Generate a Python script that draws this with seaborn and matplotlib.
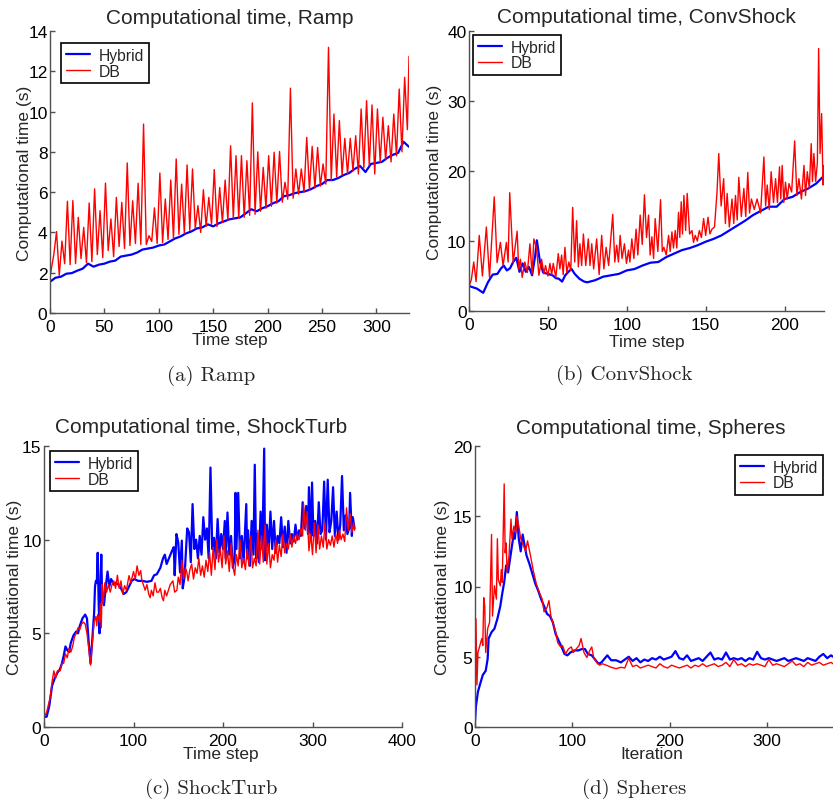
import numpy as np
import pandas as pd
import matplotlib
matplotlib.use("Agg")
import matplotlib.pyplot as plt
import seaborn as sns

# ---------------- data ----------------
# (a) Ramp
ramp_hyb_steps = list(range(0, 331, 5))
ramp_hybrid = [1.55, 1.75, 1.8, 1.95, 1.98, 2.1, 2.2, 2.45, 2.3, 2.4,
               2.45, 2.55, 2.6, 2.8, 2.85, 2.9, 3.0, 3.15, 3.2, 3.25,
               3.35, 3.4, 3.55, 3.7, 3.8, 3.95, 4.05, 4.2, 4.25, 4.4,
               4.3, 4.45, 4.55, 4.65, 4.7, 4.75, 4.95, 5.15, 5.05, 5.2,
               5.3, 5.45, 5.55, 5.8, 5.85, 5.95, 6.0, 6.05, 6.15, 6.3,
               6.4, 6.6, 6.6, 6.7, 6.85, 6.95, 7.15, 7.3, 7.0, 7.4,
               7.45, 7.5, 7.7, 7.85, 7.95, 8.5, 8.25]
ramp_db_peak_steps = list(np.arange(6, 330, 5))
ramp_db_peaks = [4.04, 3.57, 5.55, 5.58, 4.75, 4.25, 5.46, 6.16, 5.08, 6.45,
                 4.67, 5.74, 5.49, 7.45, 5.57, 6.44, 9.38, 3.84, 5.22, 6.95,
                 5.66, 6.6, 7.65, 6.4, 7.35, 7.15, 5.33, 6.12, 5.74, 7.12,
                 6.23, 6.6, 8.3, 7.81, 7.81, 7.56, 10.43, 8.0, 7.23, 7.81,
                 7.98, 8.02, 6.49, 11.16, 7.15, 7.15, 8.72, 8.27, 8.22, 7.4,
                 13.19, 9.88, 9.55, 8.67, 8.67, 8.8, 10.13, 10.54, 10.33, 10.13,
                 9.72, 9.3, 9.88, 11.12, 11.7]
ramp_db_trough_steps = list(np.arange(3.5, 328, 5))
ramp_db_troughs = [2.9, 1.86, 2.45, 2.4, 2.45, 2.7, 2.5, 2.55, 2.9, 2.75,
                   3.1, 2.8, 3.3, 3.2, 3.35, 3.45, 3.4, 3.4, 3.55, 3.45,
                   3.5, 3.65, 3.7, 3.9, 3.95, 4.1, 4.2, 4.0, 4.3, 4.4,
                   4.3, 4.5, 4.6, 4.7, 4.7, 4.75, 4.85, 4.9, 5.05, 5.2,
                   5.3, 5.45, 5.5, 5.65, 5.7, 5.9, 6.0, 6.1, 6.2, 6.3,
                   6.4, 6.6, 6.75, 6.85, 6.9, 7.05, 6.9, 7.2, 7.3, 6.9,
                   7.5, 7.6, 7.5, 7.8, 8.0]
ramp_db_edge_steps = [0, 328.5, 330]
ramp_db_edges = [1.8, 9.1, 12.74]

# (b) ConvShock
conv_hyb_steps = [0, 5, 9, 12, 15, 18, 20, 22, 24, 26, 28, 30, 32, 34, 36, 38, 40, 42, 43, 45,
                  47, 50, 53, 55, 57, 59, 61, 63, 65, 67, 70, 73, 75, 80, 85, 90, 95, 100, 105, 110,
                  115, 120, 125, 130, 135, 140, 145, 150, 155, 160, 165, 170, 175, 180, 185, 190, 195, 200, 205, 210,
                  215, 220, 224, 225]
conv_hybrid = [3.57, 3.2, 2.6, 4.1, 5.2, 5.3, 6.0, 6.5, 5.8, 6.1, 7.0, 7.6, 5.6, 6.8, 5.6, 6.3, 5.1, 8.0, 10.1, 7.0,
               5.5, 5.3, 5.1, 4.7, 4.6, 4.2, 5.1, 5.6, 6.0, 5.3, 4.6, 4.2, 4.1, 4.4, 4.9, 5.1, 5.3, 5.8, 6.0, 6.5,
               6.9, 7.0, 7.7, 8.2, 8.7, 9.0, 9.4, 9.9, 10.3, 10.8, 11.5, 12.2, 12.9, 13.7, 14.3, 14.9, 14.9, 16.0, 16.3, 17.0,
               17.5, 18.2, 19.1, 18.9]
conv_db_steps = [0, 1.5, 3, 4.5, 6.5, 8.5, 11, 13, 16, 17.8,
                 19.9, 21.6, 23.7, 24.8, 25.8, 28, 30.5, 31.5, 32.6, 33.7,
                 35.4, 37, 38.6, 40, 41.1, 42.8, 44.3, 46, 47.5, 48.5,
                 50, 51.3, 52.4, 53.4, 55, 56.6, 57.6, 58.7, 59.7, 60.8,
                 62, 63.3, 64.5, 65.7, 67, 68.2, 69.3, 70.3, 71.4, 72.5,
                 74, 75.6, 76.7, 77.8, 79, 80.9, 82.5, 84.1, 85.5, 86.9,
                 88.5, 91.1, 92.4, 93.6, 94.7, 95.8, 97, 98.5, 99.8, 101.1,
                 102, 103.2, 104.5, 105.9, 107, 108.5, 109.8, 111.2, 112.5, 113.8,
                 114.8, 115.9, 117, 118, 119.7, 121.4, 122.5, 123.5, 125, 126.5,
                 127.5, 128.6, 129.6, 130.7, 131.7, 132.8, 133.6, 134.5, 135.3, 136.2,
                 137.3, 138.3, 139.8, 141.3, 142.3, 143.4, 144.7, 146, 147.3, 148.7,
                 150, 151.5, 152.7, 154, 155.6, 157.2, 158.3, 159.8, 161.4, 162.5,
                 163.6, 165, 166.7, 167.8, 168.9, 170, 171, 172.6, 174.2, 175.4,
                 176.7, 177.8, 179, 180.8, 182.6, 184.8, 186.9, 188, 189, 190.3,
                 191.5, 193, 194.3, 195.5, 196.8, 197.6, 198.5, 199.5, 200.6, 201.7,
                 202.8, 204.5, 206.4, 207.8, 209.1, 210.7, 212.3, 213.3, 214.4, 215.7,
                 216.9, 217.7, 218.6, 219.7, 220.8, 221.6, 222.5, 223.5, 224.4, 225]
conv_db = [3.5, 4.5, 7.0, 4.2, 10.8, 5.0, 12.0, 4.8, 16.3, 6.9,
           9.8, 6.5, 9.8, 7.0, 16.9, 6.9, 11.4, 6.0, 7.4, 4.8,
           7.0, 5.5, 9.6, 5.3, 10.3, 9.0, 5.1, 7.4, 5.3, 6.5,
           5.0, 6.8, 5.2, 6.8, 4.8, 8.2, 6.0, 8.0, 5.2, 9.1,
           5.5, 7.0, 5.8, 14.8, 7.0, 12.9, 6.3, 9.6, 6.5, 11.0,
           6.5, 10.3, 6.5, 9.6, 6.0, 10.3, 5.2, 10.8, 6.0, 9.1,
           6.5, 13.8, 7.0, 9.4, 7.0, 10.8, 7.5, 9.6, 6.8, 8.7,
           7.0, 10.3, 7.5, 11.7, 8.0, 13.7, 9.5, 16.6, 10.5, 13.7,
           8.0, 10.6, 7.5, 13.2, 8.5, 15.9, 8.5, 9.1, 8.0, 10.8,
           8.5, 11.3, 9.0, 11.5, 9.0, 14.1, 10.5, 15.6, 11.0, 16.5,
           11.5, 16.8, 11.0, 11.5, 9.8, 10.8, 10.0, 11.5, 10.5, 13.2,
           10.8, 13.4, 11.0, 11.7, 12.0, 17.0, 22.5, 15.0, 18.9, 12.5,
           16.8, 12.0, 16.0, 12.5, 16.5, 13.0, 19.1, 13.5, 17.5, 13.5,
           19.8, 14.0, 16.0, 14.5, 16.0, 14.0, 22.0, 15.0, 18.0, 14.5,
           19.9, 15.5, 18.9, 15.5, 20.6, 16.0, 20.8, 15.5, 18.4, 16.0,
           18.2, 17.0, 24.3, 16.5, 18.9, 16.0, 20.8, 16.5, 19.9, 17.5,
           23.9, 18.5, 22.5, 18.5, 21.2, 37.5, 22.5, 28.2, 18.0, 20.8]

# (c) ShockTurb
st_hyb_steps = [0, 3, 6, 9, 12, 15, 18, 20, 22, 24, 26, 28, 30, 33, 36, 38, 40, 43, 46, 48,
                50, 52, 54, 56, 57, 58, 59, 60, 61, 62, 63, 64, 65, 67, 69, 71, 73, 75, 78, 80,
                83, 86, 89, 92, 95, 98, 101, 105, 110, 115, 120, 123, 126, 130, 133, 135, 137, 140, 143, 145,
                146, 148, 150, 152, 154, 155, 157, 160, 162, 164, 166, 168, 170, 172, 174, 176, 178, 180, 182, 184,
                186, 188, 190, 192, 194, 196, 198, 200, 202, 203, 205, 207, 209, 211, 213, 214, 215, 217, 219, 221,
                223, 226, 227, 228, 230, 232, 234, 235.5, 237, 238, 240, 242, 244, 246, 247, 249, 251, 253, 255, 257,
                259, 261, 263, 265, 267, 269, 271, 273, 275, 277, 279, 281, 283, 285, 287, 289, 291, 293, 295, 296,
                298, 299.5, 301, 303, 305, 307, 309, 311, 313, 315, 317, 319, 321, 323, 325, 327, 329, 331, 333, 335,
                337, 339, 341, 342, 344, 345, 347]
st_hybrid = [0.53, 0.55, 1.15, 2.2, 2.6, 2.9, 3.1, 3.4, 3.8, 4.3, 4.1, 4.0, 4.5, 4.9, 5.1, 5.0, 5.4, 5.8, 6.0, 5.8,
             4.5, 3.4, 4.7, 6.1, 7.5, 7.8, 7.7, 9.3, 6.8, 5.0, 7.5, 9.2, 6.8, 6.5, 7.5, 8.3, 7.5, 7.9, 7.6, 7.7,
             7.6, 7.4, 7.1, 7.2, 7.5, 7.8, 7.9, 7.8, 7.8, 7.75, 7.8, 8.1, 8.15, 8.5, 9.0, 9.2, 8.7, 9.05, 9.4, 9.6,
             8.1, 10.3, 9.85, 8.25, 9.95, 7.4, 8.0, 10.6, 10.4, 8.8, 11.9, 9.5, 10.0, 9.0, 10.2, 9.2, 11.2, 10.0, 10.6, 9.0,
             13.85, 9.5, 10.1, 9.0, 11.1, 9.3, 10.3, 9.5, 11.0, 9.0, 11.45, 9.2, 10.2, 8.5, 9.0, 12.5, 9.5, 12.5, 9.0, 10.2,
             8.8, 11.9, 9.0, 10.5, 8.6, 11.0, 9.2, 14.0, 9.0, 10.3, 8.8, 11.5, 9.5, 14.86, 8.9, 10.8, 9.4, 11.5, 9.5, 11.0,
             9.3, 10.2, 9.8, 11.2, 9.6, 10.7, 9.3, 11.0, 9.8, 10.3, 9.9, 10.8, 10.0, 10.5, 10.2, 12.0, 10.6, 11.8, 10.3, 12.8,
             10.0, 13.05, 10.2, 11.0, 9.8, 12.0, 10.3, 10.5, 13.1, 10.0, 13.2, 10.4, 11.0, 12.8, 10.2, 11.5, 10.0, 10.8, 13.4, 10.5,
             11.3, 10.3, 10.6, 12.5, 10.2, 11.2, 10.6]
st_db_steps = [0, 3, 5, 7, 9, 11, 13, 15, 18, 20, 22, 24, 26, 28, 30, 32, 34, 36, 38, 40,
               42, 44, 46, 48, 50, 52, 54, 56, 58, 59, 60, 62, 63, 64, 65, 66, 68, 70, 72, 74,
               76, 78, 80, 82, 84, 86, 88, 90, 92, 95, 97, 100, 102, 104, 106, 108, 109.4, 111, 113, 115,
               117, 118.6, 120, 122, 124, 126, 128, 130, 132, 133.5, 135, 137, 139, 141, 144, 146, 148.5, 150, 152, 154,
               156, 158, 159.6, 161, 163, 165, 167, 169, 171, 173, 175, 177, 179, 181, 183, 185, 187, 189, 191, 193,
               195, 197, 199, 201, 203, 205, 207, 209, 211, 213, 215, 217, 219, 221, 223, 225, 227, 229, 231, 233,
               235, 237, 239, 241, 243, 245, 247, 249, 251, 253, 255, 257, 259, 261, 263, 265, 267, 269, 271, 273,
               275, 277, 279, 281, 283, 285, 287, 289, 290, 292, 294, 296, 298, 300, 302, 304, 306, 308, 310, 312,
               314, 316, 318, 320, 322, 324, 326, 328, 330, 332, 334, 336, 338, 340, 342, 344, 346, 347]
st_db = [0.5, 0.8, 1.2, 1.6, 2.4, 3.0, 2.6, 3.0, 3.0, 3.4, 3.4, 3.9, 3.7, 4.2, 4.0, 4.3, 4.8, 5.0, 5.3, 5.2,
         5.5, 5.6, 5.5, 5.0, 4.2, 3.3, 4.5, 5.6, 5.9, 5.4, 6.0, 5.6, 6.6, 5.3, 7.6, 6.6, 7.7, 7.2, 7.6, 7.2,
         7.6, 7.8, 7.4, 8.1, 7.4, 7.8, 7.1, 7.55, 7.3, 8.08, 7.7, 8.3, 7.9, 8.6, 8.1, 8.35, 7.8, 7.6, 7.3, 7.6,
         7.1, 6.9, 7.3, 7.0, 7.7, 7.2, 7.2, 7.4, 6.9, 6.74, 7.3, 7.0, 7.3, 7.6, 7.8, 7.2, 7.3, 8.0, 7.6, 8.9,
         7.9, 8.5, 8.26, 7.8, 8.4, 8.7, 7.9, 8.5, 8.2, 9.0, 8.1, 8.6, 8.0, 8.9, 8.3, 9.3, 8.1, 9.6, 8.4, 10.0,
         8.8, 9.5, 8.5, 10.2, 8.7, 9.4, 8.3, 9.8, 8.6, 8.1, 9.2, 8.6, 10.0, 8.5, 9.0, 8.4, 9.5, 8.6, 10.2, 8.5,
         9.0, 8.6, 10.5, 8.7, 10.2, 8.8, 10.8, 8.7, 9.8, 8.5, 9.2, 8.9, 10.0, 8.8, 9.7, 9.1, 10.3, 9.3, 9.8, 9.5,
         10.3, 9.6, 10.2, 9.8, 10.3, 10.0, 10.6, 10.2, 11.9, 10.5, 11.5, 9.4, 10.3, 9.2, 10.9, 9.3, 10.8, 9.5, 10.2, 9.6,
         10.9, 9.5, 10.0, 9.7, 10.2, 9.6, 10.3, 9.8, 10.5, 10.0, 10.3, 9.9, 11.7, 10.5, 11.4, 10.4, 10.9, 10.5]

# (d) Spheres
sph_hyb_steps = [0, 1, 3, 5, 8, 11, 13, 14, 17, 20, 23, 26, 28, 30, 32, 34, 36, 38, 40, 41,
                 43, 45, 47, 49, 51, 53, 56, 59, 62, 65, 68, 71, 74, 77, 80, 83, 86, 89, 92, 95,
                 98, 102, 106, 110, 113, 116, 120, 124, 127, 130, 133, 136, 140, 145, 150]
sph_hybrid = [0.35, 1.5, 2.5, 3.0, 3.7, 4.0, 4.85, 6.3, 6.75, 7.0, 7.7, 8.6, 9.5, 10.3, 11.5, 11.0, 11.95, 12.9, 13.8, 13.4,
              15.3, 13.4, 12.5, 13.7, 12.9, 12.2, 11.6, 10.9, 10.2, 9.7, 9.1, 8.6, 8.05, 7.9, 7.45, 6.6, 6.15, 5.7, 5.2, 5.1,
              5.3, 5.45, 5.45, 5.55, 5.55, 5.2, 5.1, 4.75, 4.5, 4.6, 4.85, 5.1, 4.75, 4.75, 4.6]
sph_db_steps = [0, 1, 2, 3, 5, 7, 8, 9, 10, 11, 13, 15, 17, 18, 20, 22, 23, 24, 26, 27,
                28, 30, 31, 32, 33, 35, 37, 38, 40, 42, 43, 45, 47, 50, 52, 54, 57, 60, 63, 66,
                69, 71, 74, 76, 78, 81, 83, 85, 88, 90, 93, 96, 99, 101, 104, 107, 109, 112, 115, 118,
                120, 122, 125, 128, 131, 135, 140, 145, 150]
sph_db = [0.35, 7.7, 3.0, 5.3, 5.8, 6.3, 5.8, 9.2, 8.6, 5.3, 7.0, 7.45, 13.7, 7.9, 10.05, 9.1, 13.4, 10.5, 10.05, 11.2,
          10.3, 17.3, 12.4, 13.1, 11.0, 12.2, 14.8, 13.4, 14.3, 13.8, 15.0, 14.3, 13.4, 12.9, 12.5, 13.25, 12.2, 11.1, 10.2, 9.6,
          9.1, 8.2, 8.5, 9.0, 7.9, 7.2, 6.75, 6.0, 5.7, 5.8, 5.2, 5.55, 5.7, 5.3, 5.55, 5.8, 6.3, 5.3, 4.95, 5.45,
          5.7, 4.95, 4.6, 4.4, 4.5, 4.4, 4.25, 4.15, 4.25]
sph_flat_steps = list(range(154, 367, 4)) + [368]
sph_hybrid_flat = [4.8, 5.0, 4.7, 4.9, 4.6, 4.8, 4.7, 4.9, 4.8, 5.0,
                   4.8, 4.9, 5.0, 5.4, 4.9, 4.8, 5.1, 4.7, 4.8, 4.9,
                   4.7, 5.0, 5.3, 4.8, 4.9, 4.8, 5.3, 4.8, 4.9, 4.8,
                   4.9, 4.7, 4.9, 4.8, 5.35, 4.9, 4.8, 4.9, 4.8, 4.7,
                   4.8, 4.9, 4.7, 4.8, 4.9, 4.8, 4.7, 4.9, 4.8, 4.7,
                   5.0, 5.2, 4.9, 5.1, 5.0]
sph_db_flat = [4.2, 4.9, 4.3, 4.4, 4.2, 4.3, 4.4, 4.3, 4.2, 4.5,
               4.3, 4.2, 4.4, 4.3, 4.2, 4.3, 4.4, 4.2, 4.4, 4.3,
               4.5, 4.3, 4.4, 4.5, 4.3, 4.4, 4.6, 4.3, 4.8, 4.4,
               4.5, 4.3, 4.5, 4.4, 4.5, 4.4, 4.3, 4.8, 4.4, 4.5,
               4.4, 4.3, 4.5, 4.7, 4.4, 4.5, 4.3, 4.6, 4.4, 4.5,
               4.6, 4.4, 4.5, 4.6, 4.5]

titles = ["Computational time, Ramp", "Computational time, ConvShock",
          "Computational time, ShockTurb", "Computational time, Spheres"]
xlabels = ["Time step", "Time step", "Time step", "Iteration"]
captions = ["(a) Ramp", "(b) ConvShock", "(c) ShockTurb", "(d) Spheres"]
series_names = ["Hybrid", "DB"]

# ---------------- assemble tables ----------------
def series_df(steps, vals, name):
    return pd.DataFrame({"step": np.asarray(steps, float), "time": np.asarray(vals, float), "method": name})

ramp_db_pts = sorted(zip(ramp_db_edge_steps + ramp_db_peak_steps + ramp_db_trough_steps,
                         ramp_db_edges + ramp_db_peaks + ramp_db_troughs))
panels = [
    (series_df(ramp_hyb_steps, ramp_hybrid, "Hybrid"),
     series_df([p[0] for p in ramp_db_pts], [p[1] for p in ramp_db_pts], "DB")),
    (series_df(conv_hyb_steps, conv_hybrid, "Hybrid"), series_df(conv_db_steps, conv_db, "DB")),
    (series_df(st_hyb_steps, st_hybrid, "Hybrid"), series_df(st_db_steps, st_db, "DB")),
    (series_df(sph_hyb_steps + sph_flat_steps, sph_hybrid + sph_hybrid_flat, "Hybrid"),
     series_df(sph_db_steps + sph_flat_steps, sph_db + sph_db_flat, "DB")),
]

# ---------------- style ----------------
sns.set_style("ticks")
plt.rcParams.update({
    "font.family": ["Liberation Sans", "DejaVu Sans"],
    "xtick.direction": "in", "ytick.direction": "in",
    "axes.edgecolor": "#505050", "axes.linewidth": 1.0,
    "xtick.color": "#505050", "ytick.color": "#505050",
    "xtick.labelcolor": "black", "ytick.labelcolor": "black",
})

W, H = 833, 804
fig = plt.figure(figsize=(W / 100, H / 100), dpi=100)

def add_ax(l, t, r, b):
    return fig.add_axes([l / W, 1 - b / H, (r - l) / W, (b - t) / H])

axes = [add_ax(50, 32, 409, 314), add_ax(469, 32, 824, 312),
        add_ax(44, 447, 402, 728), add_ax(475, 447, 833, 728)]

xlims = [(0, 330), (0, 225), (0, 400), (0, 368)]
ylims = [(0, 14), (0, 40), (0, 15), (0, 20)]
xticks = [np.arange(0, 301, 50), np.arange(0, 201, 50), np.arange(0, 401, 100), np.arange(0, 301, 100)]
yticks = [np.arange(0, 15, 2), np.arange(0, 41, 10), np.arange(0, 16, 5), np.arange(0, 21, 5)]
title_x = [0.5, 0.5, 0.438, 0.491]
title_pad = [5.8, 6.2, 9.9, 9.1]
ylab_x = [-0.050, -0.077, -0.062, -0.070]
xlab_pos = [(0.5, -0.067), (0.5, -0.082), (0.494, -0.0665), (0.4936, -0.0665)]
leg_loc = ["upper left", "upper left", "upper left", "upper right"]
leg_anchor = [(0.0306, 0.957), (0.011, 0.986), (0.0168, 0.982), (0.972, 0.968)]
cap_pos = [(0.2533, 0.5323), (0.750, 0.5336), (0.2533, 0.0187), (0.761, 0.0187)]

for i, ax in enumerate(axes):
    hyb, db = panels[i]
    sns.lineplot(data=hyb, x="step", y="time", ax=ax, color="#0000ff", linewidth=1.6,
                 sort=False, estimator=None, errorbar=None, label=series_names[0])
    sns.lineplot(data=db, x="step", y="time", ax=ax, color="#ff0000", linewidth=1.0,
                 sort=False, estimator=None, errorbar=None, label=series_names[1])
    ax.set_xlim(*xlims[i])
    ax.set_ylim(*ylims[i])
    ax.set_xticks(xticks[i])
    ax.set_yticks(yticks[i])
    ax.tick_params(axis="both", labelsize=12.5, length=3.5, width=1.0)
    ax.tick_params(axis="x", pad=4)
    ax.tick_params(axis="y", pad=1.8)
    sns.despine(ax=ax)
    ax.set_title(titles[i], fontsize=15, x=title_x[i], pad=title_pad[i])
    ax.set_ylabel("Computational time (s)", fontsize=12.5)
    ax.yaxis.set_label_coords(ylab_x[i], 0.5)
    ax.set_xlabel(xlabels[i], fontsize=12.5)
    ax.xaxis.set_label_coords(*xlab_pos[i])
    leg = ax.legend(loc=leg_loc[i], bbox_to_anchor=leg_anchor[i], borderaxespad=0,
                    fontsize=11.3, frameon=True, fancybox=False, framealpha=1,
                    edgecolor="black", handlelength=1.55, handletextpad=0.55,
                    labelspacing=0.05, borderpad=0.3)
    leg.get_frame().set_linewidth(1.2)
    fig.text(cap_pos[i][0], cap_pos[i][1], captions[i], ha="center", va="center",
             fontsize=15, family=["cmr10", "DejaVu Serif"])

fig.savefig("out.png", dpi=100)
